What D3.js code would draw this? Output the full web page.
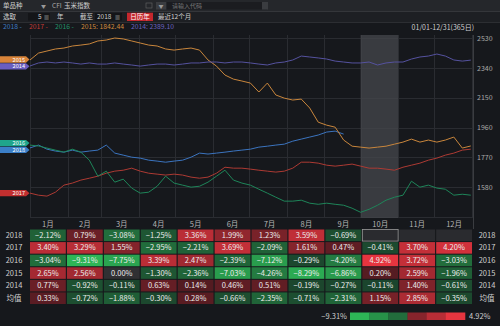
<!DOCTYPE html>
<html><head><meta charset="utf-8">
<script src="https://cdn.jsdelivr.net/npm/d3@7"></script>
<style>
html,body{margin:0;padding:0;background:#16181c;overflow:hidden;}
svg{display:block;font-family:"Noto Sans CJK SC","Noto Sans",sans-serif;}
</style></head><body>
<svg id="c" width="500" height="326"></svg>
<script>
// ---------- data ----------
const months = ["1月","2月","3月","4月","5月","6月","7月","8月","9月","10月","11月","12月"];
const monthStartDays = [0,31,59,90,120,151,181,212,243,273,304,334,365];
const yTicks = [2530,2340,2150,1960,1770,1580];
const yGridExtra = [1390];
const seriesNames = ["2018","2017","2016","2015","2014"];
const sampleStep = 7; // days between samples
const values2018 = [1830,1848,1822,1810,1803,1816,1803,1810,1816,1848,1797,1784,1771,1765,1752,1746,1739,1746,1752,1771,1797,1791,1797,1803,1810,1816,1822,1835,1841,1848,1854,1873,1886,1899,1912,1931,1937,1918];
const values2017 = [1542,1529,1523,1548,1593,1606,1625,1637,1650,1669,1682,1688,1701,1682,1669,1663,1657,1663,1657,1644,1637,1644,1669,1707,1701,1701,1695,1688,1682,1676,1682,1701,1739,1739,1733,1720,1714,1720,1727,1714,1701,1701,1695,1688,1707,1720,1733,1752,1765,1784,1797,1816,1822];
const values2016 = [1848,1842,1829,1816,1803,1822,1803,1752,1650,1682,1612,1631,1574,1542,1548,1586,1650,1606,1593,1580,1586,1612,1650,1688,1625,1606,1593,1567,1542,1516,1491,1491,1497,1478,1471,1478,1471,1465,1446,1420,1439,1465,1497,1516,1529,1618,1580,1593,1574,1567,1529,1535,1529];
const values2015 = [2390,2434,2447,2460,2466,2479,2485,2492,2511,2517,2530,2524,2511,2498,2485,2479,2460,2453,2460,2466,2453,2390,2351,2294,2268,2256,2243,2186,2243,2167,2147,2135,2141,2084,1994,1975,1962,1880,1841,1835,1829,1835,1841,1854,1867,1886,1867,1880,1867,1880,1899,1829,1842.44];
const values2014 = [2352,2371,2377,2371,2377,2371,2364,2371,2364,2364,2371,2364,2358,2351,2358,2364,2364,2358,2364,2371,2371,2377,2377,2371,2377,2377,2371,2364,2358,2371,2377,2390,2415,2409,2403,2396,2383,2377,2371,2371,2377,2358,2371,2377,2377,2396,2409,2415,2428,2415,2390,2383,2389.10];
const legendShowValue = [false,false,false,true,true];

const rowLabels = ["2018","2017","2016","2015","2014","均值"];
const pct2018 = [-2.12,0.79,-3.08,-1.25,3.36,1.99,1.23,3.59,-0.69,null,null,null];
const pct2017 = [3.40,3.29,1.55,-2.95,-2.21,3.69,-2.09,1.61,0.47,-0.41,3.70,4.20];
const pct2016 = [-3.04,-9.31,-7.75,3.39,2.47,-2.39,-7.12,-0.29,-4.20,4.92,3.72,-3.03];
const pct2015 = [2.65,2.56,0.00,-1.30,-2.36,-7.03,-4.26,-8.29,-6.86,0.20,2.59,-1.96];
const pct2014 = [0.77,-0.92,-0.11,0.63,0.14,0.46,0.51,-0.19,-0.27,-0.11,1.40,-0.61];
const pctAvg  = [0.33,-0.72,-1.88,-0.30,0.28,-0.66,-2.35,-0.71,-2.31,1.15,2.85,-0.35];
const highlightMonth = 9; // 10月

// ---------- setup ----------
const series = [values2018,values2017,values2016,values2015,values2014];
const lineColors = ["#3b74bf","#ad3a33","#1e8559","#c9863c","#55529f"];
const legendColors = ["#3f79c2","#c23a36","#23946a","#d08a3e","#6b63c0"];
const flagColors = ["#3b7fc8","#c22f2f","#1fa58c","#d9843a","#6a5ec0"];
const pctRows = [pct2018,pct2017,pct2016,pct2015,pct2014,pctAvg];

const W=500,H=326;
const P={left:30,right:472,top:35,bottom:218};
const svg=d3.select("#c");
svg.append("rect").attr("width",W).attr("height",H).attr("fill","#16181c");

// ---------- toolbar ----------
const tb=svg.append("g").attr("font-size",6.5).attr("fill","#cfcfcf");
tb.append("rect").attr("width",W).attr("height",11).attr("fill","#25272b");
tb.append("rect").attr("y",11).attr("width",W).attr("height",11).attr("fill","#1d1f23");
tb.append("line").attr("x1",0).attr("x2",W).attr("y1",11.5).attr("y2",11.5).attr("stroke","#34363a");
tb.append("line").attr("x1",0).attr("x2",W).attr("y1",22.5).attr("y2",22.5).attr("stroke","#2c2e32");
tb.append("text").attr("x",3).attr("y",8.3).text("单品种");
tb.append("text").attr("x",41).attr("y",8.3).attr("font-size",5).attr("fill","#999").text("▼");
tb.append("text").attr("x",52).attr("y",8.3).attr("fill","#aaa").text("CFI");
tb.append("text").attr("x",64).attr("y",8.3).text("玉米指数");
tb.append("rect").attr("x",146).attr("y",3).attr("width",6).attr("height",5).attr("fill","none").attr("stroke","#666").attr("stroke-width",0.6);
tb.append("rect").attr("x",156).attr("y",2).attr("width",10).attr("height",7.5).attr("fill","#3a3c40");
tb.append("text").attr("x",158.5).attr("y",7.8).attr("font-size",5).attr("fill","#999").text("▼");
tb.append("rect").attr("x",167).attr("y",2).attr("width",100).attr("height",7.5).attr("fill","#1b1c20");
tb.append("text").attr("x",172).attr("y",8.2).attr("fill","#777").attr("font-size",6).text("请输入代码");
tb.append("rect").attr("x",262).attr("y",2).attr("width",6).attr("height",7.5).attr("fill","#3a3c40");

tb.append("text").attr("x",3).attr("y",19).text("选取");
tb.append("rect").attr("x",28).attr("y",13).attr("width",22).attr("height",7.5).attr("fill","#141518");
tb.append("text").attr("x",38).attr("y",19).text("5");
tb.append("text").attr("x",44).attr("y",19).attr("font-size",5).attr("fill","#999").text("▦");
tb.append("text").attr("x",57).attr("y",19).text("年");
tb.append("text").attr("x",80).attr("y",19).text("截至");
tb.append("rect").attr("x",95).attr("y",13).attr("width",27).attr("height",7.5).attr("fill","#141518");
tb.append("text").attr("x",97).attr("y",19).text("2018");
tb.append("text").attr("x",115).attr("y",19).attr("font-size",5).attr("fill","#999").text("▦");
tb.append("rect").attr("x",127).attr("y",12.7).attr("width",26).attr("height",8.3).attr("fill","#c4272d");
tb.append("text").attr("x",140).attr("y",19).attr("text-anchor","middle").attr("fill","#fff").text("日历年");
tb.append("text").attr("x",158).attr("y",19).text("最近12个月");

// ---------- legend ----------
const lg=svg.append("g").attr("font-size",6.8);
let lx=3;
series.forEach((s,i)=>{
  const label = legendShowValue[i] ? `${seriesNames[i]}: ${d3.format(".2f")(s[s.length-1])}` : `${seriesNames[i]} -`;
  const t=lg.append("text").attr("x",lx).attr("y",29).attr("fill",legendColors[i]).text(label);
  lx += t.node().getComputedTextLength()+7;
});
svg.append("text").attr("x",474).attr("y",29.5).attr("text-anchor","end").attr("font-size",7).attr("fill","#cfcfcf").text("01/01-12/31(365日)");

// ---------- chart ----------
const xDay=d3.scaleLinear().domain([0,365]).range([P.left,P.right]);
const y=d3.scaleLinear().domain([1390,2530]).range([217,38]);
const g=svg.append("g");
g.selectAll("line.hg").data(yTicks.concat(yGridExtra)).join("line").attr("class","hg")
  .attr("x1",P.left).attr("x2",P.right).attr("y1",d=>Math.round(y(d))+0.5).attr("y2",d=>Math.round(y(d))+0.5)
  .attr("stroke","#2a2c31").attr("stroke-width",1);
g.selectAll("line.vg").data(monthStartDays).join("line").attr("class","vg")
  .attr("x1",d=>Math.round(xDay(d))+0.5).attr("x2",d=>Math.round(xDay(d))+0.5).attr("y1",P.top).attr("y2",P.bottom)
  .attr("stroke","#2a2c31").attr("stroke-width",1);
g.append("line").attr("x1",P.right+1.5).attr("x2",P.right+1.5).attr("y1",P.top).attr("y2",229).attr("stroke","#3a3c40");
g.append("rect").attr("x",xDay(monthStartDays[highlightMonth])).attr("y",P.top)
  .attr("width",xDay(monthStartDays[highlightMonth+1])-xDay(monthStartDays[highlightMonth]))
  .attr("height",P.bottom-P.top).attr("fill","#46474c").attr("opacity",0.75);
const ax=svg.append("g").attr("transform",`translate(${P.right+4},0)`)
  .call(d3.axisRight(y).tickValues(yTicks).tickSize(0).tickPadding(1).tickFormat(d3.format("d")));
ax.select(".domain").remove();
ax.selectAll("text").attr("fill","#a9a9a9").attr("font-size",7).attr("font-family","Noto Sans CJK SC, sans-serif");
const line=d3.line().x((d,i)=>xDay(i*sampleStep)).y(d=>y(d));
series.forEach((s,i)=>{
  g.append("path").datum(s).attr("d",line).attr("fill","none").attr("stroke",lineColors[i]).attr("stroke-width",1).attr("stroke-linejoin","round");
});

// start flags with simple collision dodge
const flagH=6.4, flagGap=6.8;
const flags=series.map((s,i)=>({i, y0:y(s[0])})).sort((a,b)=>a.y0-b.y0);
// group overlapping flags and spread them around their mean
let groups=[];
flags.forEach(f=>{
  const last=groups[groups.length-1];
  if(last && f.y0-last[last.length-1].y0<flagGap) last.push(f); else groups.push([f]);
});
groups.forEach(gr=>{
  const mean=d3.mean(gr,d=>d.y0);
  gr.forEach((f,k)=>{ f.y=mean+(k-(gr.length-1)/2)*flagGap; });
});
flags.forEach(fl=>{
  const yy=fl.y, i=fl.i;
  const f=svg.append("g");
  f.append("path").attr("d",`M0,${yy-flagH/2}H26L29.5,${yy}L26,${yy+flagH/2}H0Z`).attr("fill",flagColors[i]);
  f.append("text").attr("x",25).attr("y",yy+2).attr("text-anchor","end").attr("font-size",5.6).attr("fill","#fff").text(seriesNames[i]);
});

// ---------- month labels ----------
const xb=d3.scaleBand().domain(months).range([P.left,P.right]).paddingInner(0.03);
svg.selectAll("text.ml").data(months).join("text").attr("class","ml")
  .attr("x",d=>xb(d)+xb.bandwidth()/2).attr("y",227).attr("text-anchor","middle")
  .attr("font-size",7.5).attr("fill","#b5b5b5").text(d=>d);

// ---------- heatmap ----------
const rb=d3.scaleBand().domain(rowLabels).range([229.5,304]).paddingInner(0.08);
const allPct=pctRows.flat().filter(v=>v!=null);
const pMin=d3.min(allPct), pMax=d3.max(allPct);
const negI=d3.interpolateRgb("#1b432c","#2db556");
const posI=d3.interpolateRgb("#4d1a20","#e6353f");
function cellColor(v){
  if(v===0) return "#303033";
  return v<0 ? negI(Math.pow(v/pMin,0.9)) : posI(Math.pow(v/pMax,0.9));
}
const hm=svg.append("g");
pctRows.forEach((row,ri)=>{
  const rl=rowLabels[ri];
  hm.append("text").attr("x",14).attr("y",rb(rl)+rb.bandwidth()/2+2.6).attr("text-anchor","middle")
    .attr("font-size",7.5).attr("fill","#cfcfcf").text(rl);
  hm.append("text").attr("x",487).attr("y",rb(rl)+rb.bandwidth()/2+2.6).attr("text-anchor","middle")
    .attr("font-size",7.5).attr("fill","#cfcfcf").text(rl);
  row.forEach((v,ci)=>{
    const m=months[ci];
    const isHi = v==null && ci===highlightMonth;
    hm.append("rect").attr("x",xb(m)).attr("y",rb(rl)).attr("width",xb.bandwidth()).attr("height",rb.bandwidth())
      .attr("fill",v==null?"#2a2b2f":cellColor(v))
      .attr("stroke",isHi?"#9a9a9a":"none").attr("stroke-width",0.8);
    if(v!=null){
      hm.append("text").attr("x",xb(m)+xb.bandwidth()/2).attr("y",rb(rl)+rb.bandwidth()/2+2.6)
        .attr("text-anchor","middle").attr("font-size",7.5).attr("fill","#ececec")
        .text(d3.format(".2f")(v)+"%");
    }
  });
});

// ---------- colour legend ----------
const legendSteps=d3.range(6);
const lgx=d3.scaleBand().domain(legendSteps).range([350,465]);
svg.selectAll("rect.cl").data(legendSteps).join("rect").attr("class","cl")
  .attr("x",d=>lgx(d)).attr("y",312.5).attr("width",lgx.bandwidth()+0.3).attr("height",7.5)
  .attr("fill",d=> d<3 ? cellColor(pMin*(1-d/3)) : cellColor(pMax*((d-2)/3)));
svg.append("text").attr("x",347).attr("y",319).attr("text-anchor","end").attr("font-size",7.5).attr("fill","#cfcfcf").text(d3.format(".2f")(pMin)+"%");
svg.append("text").attr("x",469).attr("y",319).attr("font-size",7.5).attr("fill","#cfcfcf").text(d3.format(".2f")(pMax)+"%");
</script>
</body></html>
